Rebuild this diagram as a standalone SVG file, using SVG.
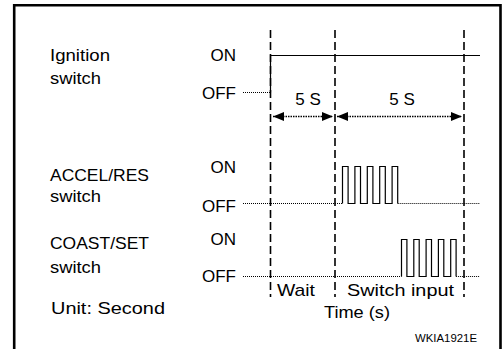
<svg xmlns="http://www.w3.org/2000/svg" width="503" height="349" viewBox="0 0 503 349">
<style>
text{font-family:"Liberation Sans",Arial,sans-serif;font-size:17px;fill:#000}
.r{text-anchor:end}
.m{text-anchor:middle}
.solid{fill:none;stroke:#000;stroke-width:1.2}
.dot{fill:none;stroke:#000;stroke-width:1;stroke-dasharray:1 1}
.dash{fill:none;stroke:#000;stroke-width:1.6;stroke-dasharray:8 4}
.arr{fill:none;stroke:#000;stroke-width:1.4;stroke-dasharray:1.5 1;marker-start:url(#ah);marker-end:url(#ah)}
</style>
<defs>
<marker id="ah" markerUnits="userSpaceOnUse" markerWidth="12" markerHeight="10" refX="11" refY="4.5" orient="auto-start-reverse">
<path d="M0,0 L11,4.5 L0,9 z" fill="#000"/>
</marker>
</defs>
<rect width="503" height="349" fill="#fff"/>
<g id="frame" fill="none" stroke="#000">
<path d="M14.2,349 V5.3 H500.5 V349" stroke-width="2.6"/>
</g>
<g id="connectors">
<path class="dash" d="M270.5,30 V297"/>
<path class="dash" d="M335,30 V297"/>
<path class="dash" d="M464,30 V297"/>
<path class="arr" d="M273,116.5 H333"/>
<path class="arr" d="M337,116.5 H462"/>
</g>
<g id="ignition">
<text x="50" y="61" textLength="60" lengthAdjust="spacingAndGlyphs">Ignition</text>
<text x="50" y="84" textLength="51" lengthAdjust="spacingAndGlyphs">switch</text>
<text class="r" x="236" y="61">ON</text>
<text class="r" x="236" y="99">OFF</text>
<path class="dot" d="M243,92.5 H270.5"/>
<path class="solid" d="M270.5,92.5 V55.5 H480"/>
</g>
<g id="durations">
<text class="m" x="308" y="105">5 S</text>
<text class="m" x="402" y="105">5 S</text>
</g>
<g id="accel">
<text x="50" y="181" textLength="99" lengthAdjust="spacingAndGlyphs">ACCEL/RES</text>
<text x="50" y="202" textLength="51" lengthAdjust="spacingAndGlyphs">switch</text>
<text class="r" x="236" y="173">ON</text>
<text class="r" x="236" y="211.5">OFF</text>
<path class="dot" d="M243,203.5 H342.5 M397.7,203.5 H480"/>
<path class="solid" d="M342.5,203.5 V166.5 H348.1 V203.5 H354.9 V166.5 H360.5 V203.5 H367.3 V166.5 H372.9 V203.5 H379.7 V166.5 H385.3 V203.5 H392.1 V166.5 H397.7 V203.5"/>
</g>
<g id="coast">
<text x="50" y="249" textLength="99" lengthAdjust="spacingAndGlyphs">COAST/SET</text>
<text x="50" y="273" textLength="51" lengthAdjust="spacingAndGlyphs">switch</text>
<text class="r" x="236" y="245">ON</text>
<text class="r" x="236" y="282">OFF</text>
<path class="dot" d="M243,276.5 H401.5 M456.1,276.5 H480"/>
<path class="solid" d="M401.5,276.5 V239.5 H406.9 V276.5 H413.8 V239.5 H419.2 V276.5 H426.1 V239.5 H431.5 V276.5 H438.4 V239.5 H443.8 V276.5 H450.7 V239.5 H456.1 V276.5"/>
</g>
<g id="labels">
<text x="51" y="314" textLength="114" lengthAdjust="spacingAndGlyphs">Unit: Second</text>
<text x="277" y="296" textLength="38" lengthAdjust="spacingAndGlyphs">Wait</text>
<text x="347" y="296" textLength="107" lengthAdjust="spacingAndGlyphs">Switch input</text>
<text x="324" y="318" textLength="66" lengthAdjust="spacingAndGlyphs">Time (s)</text>
<text x="415" y="342" style="font-size:11.5px" textLength="62" lengthAdjust="spacingAndGlyphs">WKIA1921E</text>
</g>
</svg>
